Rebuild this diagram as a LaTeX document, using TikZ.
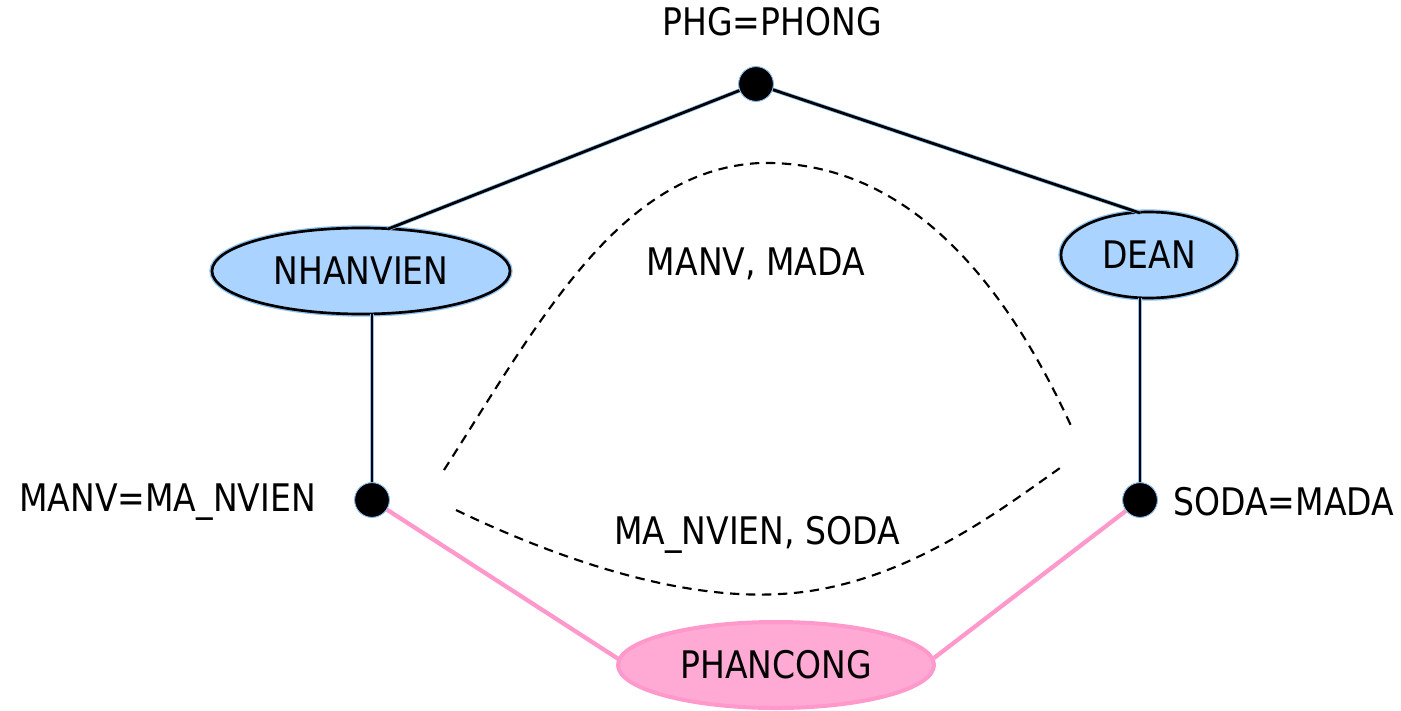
\documentclass[tikz,border=0pt]{standalone}
\usepackage{fontspec}
\setmainfont[FakeStretch=0.87]{DejaVu Sans}
\usetikzlibrary{shapes.geometric}
\definecolor{lblue}{HTML}{AAD4FF}
\definecolor{halo}{HTML}{8EC2F0}
\definecolor{pinkfill}{HTML}{FFAAD4}
\definecolor{pinkline}{HTML}{FF99CC}
\begin{document}
\begin{tikzpicture}[x=0.75pt,y=-0.75pt,
  lbl/.style={font=\fontsize{28.5}{32}\selectfont, inner sep=0pt},
  blueell/.style={ellipse, draw=black, line width=2pt, fill=lblue,
     preaction={draw=halo, line width=4pt}, inner sep=0pt},
  pinkell/.style={ellipse, draw=pinkline, line width=3pt, fill=pinkfill, inner sep=0pt},
  dotnode/.style={circle, fill=black, draw=halo, line width=0.6pt, minimum size=26pt, inner sep=0pt},
  bedge/.style={draw=black, line width=2.1pt, preaction={draw=halo, line width=3.2pt}},
  pedge/.style={draw=pinkline, line width=3.2pt},
  dsh/.style={draw=black, line width=1.6pt, dash pattern=on 7pt off 5pt}]
\useasboundingbox (0,0) rectangle (1401,710);
\node[dotnode] (top) at (756,84) {};
\node[dotnode] (ld) at (372,500) {};
\node[dotnode] (rd) at (1140,500) {};
\node[blueell, minimum width=223.5pt, minimum height=64.5pt] (nv) at (361,271) {};
\node[blueell, minimum width=132pt, minimum height=64.5pt] (da) at (1149,255) {};
\node[pinkell, minimum width=237pt, minimum height=64.5pt] (pc) at (776,665) {};
\node[lbl] at (nv.center) {NHANVIEN};
\node[lbl] at (da.center) {DEAN};
\node[lbl] at (pc.center) {PHANCONG};
\coordinate (nvt) at (388,229);
\coordinate (dat) at (1140,213);
\coordinate (nvb) at (372,314);
\coordinate (dab) at (1140,298);
\coordinate (pcl) at (620,660);
\coordinate (pcr) at (934,658);
\path[bedge] (top) -- (nvt);
\path[bedge] (top) -- (dat);
\path[bedge] (nvb) -- (ld);
\path[bedge] (dab) -- (rd);
\path[pedge] (ld) -- (pcl);
\path[pedge] (rd) -- (pcr);
\node[dotnode] at (top) {};
\node[dotnode] at (ld) {};
\node[dotnode] at (rd) {};
\node[lbl] (t1) at (772,22) {PHG=PHONG};
\node[lbl, anchor=east] (t2) at (316,502) {MANV=MA\_NVIEN};
\node[lbl, anchor=west] (t3) at (1173,502) {SODA=MADA};
\node[lbl] (t4) at (756,264) {MANV, MADA};
\node[lbl] (t5) at (757,535) {MA\_NVIEN, SODA};
\coordinate (c1) at (444,470);
\coordinate (c2) at (1072,428);
\coordinate (c3) at (456,510);
\coordinate (c4) at (1060,468);
\path[dsh] (c1) .. controls (540,320) and (620,170) .. (760,163)
  .. controls (900,160) and (1000,270) .. (c2);
\path[dsh] (c3) .. controls (560,560) and (680,600) .. (780,594)
  .. controls (900,588) and (1000,510) .. (c4);
\end{tikzpicture}
\end{document}
